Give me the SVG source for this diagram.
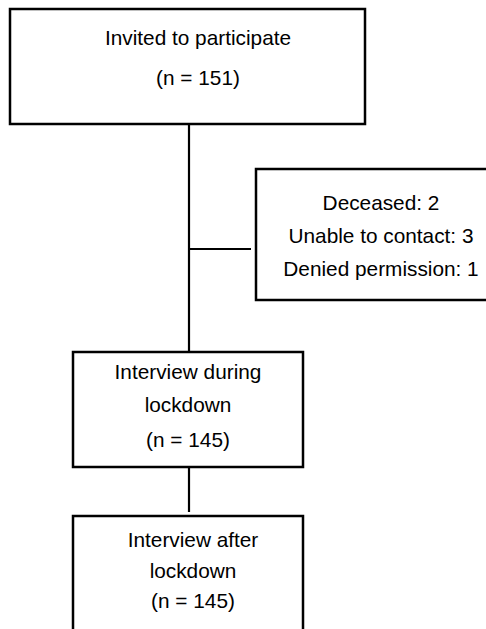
<svg xmlns="http://www.w3.org/2000/svg" width="486" height="629" viewBox="0 0 486 629">
<style>
.box{fill:#fff;stroke:#000;stroke-width:2.5}
.ln{stroke:#000;stroke-width:2.2;fill:none}
text{font-family:"Liberation Sans",Arial,sans-serif;font-size:20.8px;fill:#000;text-anchor:middle}
</style>
<rect width="486" height="629" fill="#fff"/>
<g id="connectors">
<line class="ln" x1="189" y1="124" x2="189" y2="352"/>
<line class="ln" x1="189" y1="249" x2="251" y2="249"/>
<line class="ln" x1="189" y1="467" x2="189" y2="512"/>
</g>
<g id="invited">
<rect class="box" x="10" y="9" width="355" height="115"/>
<text x="198" y="45">Invited to participate</text>
<text x="198" y="85">(n = 151)</text>
</g>
<g id="excluded">
<rect class="box" x="256" y="169" width="240" height="131"/>
<text x="381" y="210">Deceased: 2</text>
<text x="381" y="243">Unable to contact: 3</text>
<text x="381" y="276">Denied permission: 1</text>
</g>
<g id="during">
<rect class="box" x="73" y="352" width="230" height="115"/>
<text x="188" y="379">Interview during</text>
<text x="188" y="412">lockdown</text>
<text x="188" y="447">(n = 145)</text>
</g>
<g id="after">
<rect class="box" x="73" y="516" width="230" height="130"/>
<text x="193" y="547">Interview after</text>
<text x="193" y="578">lockdown</text>
<text x="193" y="608">(n = 145)</text>
</g>
</svg>
